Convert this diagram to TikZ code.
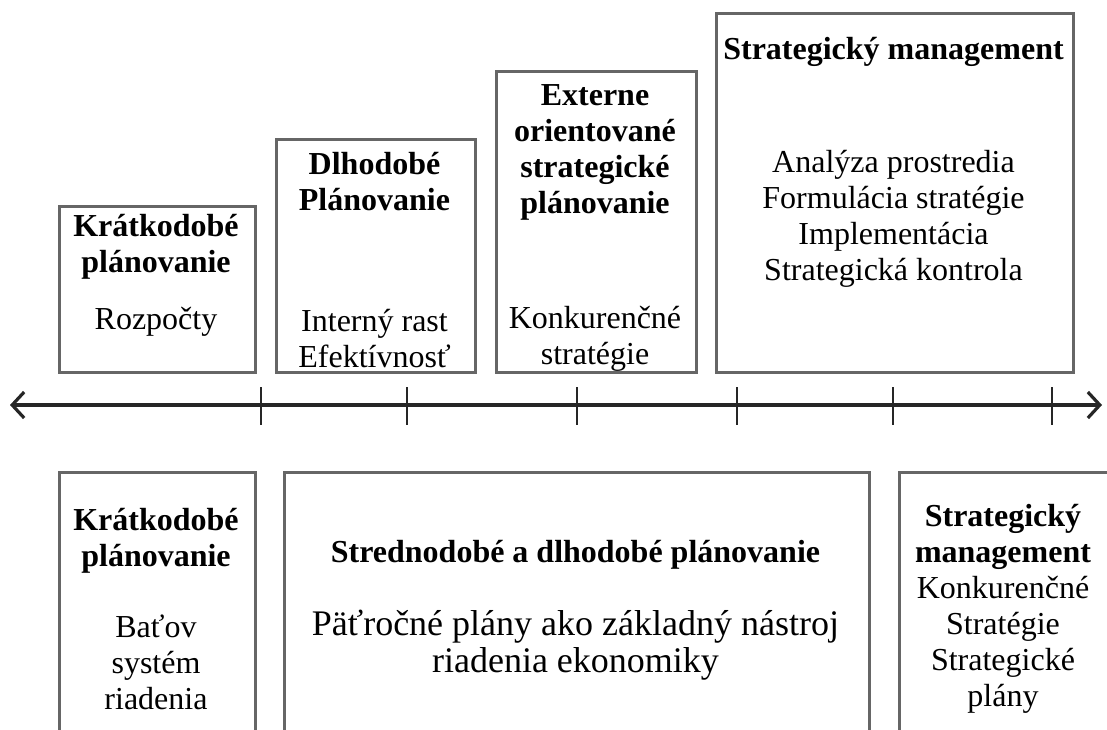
\documentclass[tikz,border=0pt]{standalone}
\usepackage{fontspec}
\setmainfont{Liberation Serif}
\usetikzlibrary{arrows.meta}
\tikzset{
stagebox/.style=
    {draw=black!60,
    line width=1.3pt,
    rectangle,
    anchor=north west,
    inner sep=0pt
    },
headtext/.style=
    {align=center,
    font=\fontsize{16pt}{18pt}\selectfont\bfseries,
    inner sep=0pt
    },
bodytext/.style=
    {align=center,
    font=\fontsize{16pt}{18pt}\selectfont,
    inner sep=0pt
    },
bigbodytext/.style=
    {bodytext,
    font=\fontsize{18pt}{18.5pt}\selectfont
    },
axisline/.style=
    {draw=black!85,
    line width=1.6pt,
    {Straight Barb[length=6pt,width=13pt]}-{Straight Barb[length=6pt,width=13pt]}
    },
tickmark/.style=
    {draw=black!85,
    line width=1.3pt
    }}

\begin{document}
\begin{tikzpicture}[x=0.5pt,y=-0.5pt]
\useasboundingbox (0,0) rectangle (1107,729);
\clip (0,0) rectangle (1107,729);

% upper row
\node[stagebox,minimum width=98pt,minimum height=83pt] (topShort) at (58,205) {};
\node[stagebox,minimum width=99.5pt,minimum height=116.5pt] (topLong) at (275,138) {};
\node[stagebox,minimum width=100pt,minimum height=150.5pt] (topExt) at (495,70) {};
\node[stagebox,minimum width=178.5pt,minimum height=179.5pt] (topStrat) at (715,12) {};

\node[headtext] (topShortHead) at (156,246.5) {Krátkodobé\\plánovanie};
\node[bodytext] (topShortBody) at (156,322) {Rozpočty};
\node[headtext] (topLongHead) at (374.5,181.5) {Dlhodobé\\Plánovanie};
\node[bodytext] (topLongBody) at (374.5,338.5) {Interný rast\\Efektívnosť};
\node[headtext] (topExtHead) at (595,152.5) {Externe\\orientované\\strategické\\plánovanie};
\node[bodytext] (topExtBody) at (595,338.5) {Konkurenčné\\stratégie};
\node[headtext] (topStratHead) at (893.5,52) {Strategický management};
\node[bodytext] (topStratBody) at (893.5,219) {Analýza prostredia\\Formulácia stratégie\\Implementácia\\Strategická kontrola};

% time axis
\coordinate (axisL) at (10,405);
\coordinate (axisR) at (1102,405);
\draw[axisline] (axisL) -- (axisR);
\foreach \x in {261,407,577,737,893,1052}
    \draw[tickmark] (\x,387) -- (\x,425);

% lower row
\node[stagebox,minimum width=98pt,minimum height=150pt] (botShort) at (58,471) {};
\node[stagebox,minimum width=292.5pt,minimum height=150pt] (botMid) at (283,471) {};
\node[stagebox,minimum width=106pt,minimum height=150pt] (botStrat) at (898,471) {};

\node[headtext] (botShortHead) at (156,540.5) {Krátkodobé\\plánovanie};
\node[bodytext] (botShortBody) at (156,662) {Baťov\\systém\\riadenia};
\node[headtext] (botMidHead) at (575.5,555) {Strednodobé a dlhodobé plánovanie};
\node[bigbodytext] (botMidBody) at (575.5,645.5) {Päťročné plány ako základný nástroj\\riadenia ekonomiky};
\node[bodytext] (botStratText) at (1003,608.5) {\textbf{Strategický}\\\textbf{management}\\Konkurenčné\\Stratégie\\Strategické\\plány};

\end{tikzpicture}
\end{document}
